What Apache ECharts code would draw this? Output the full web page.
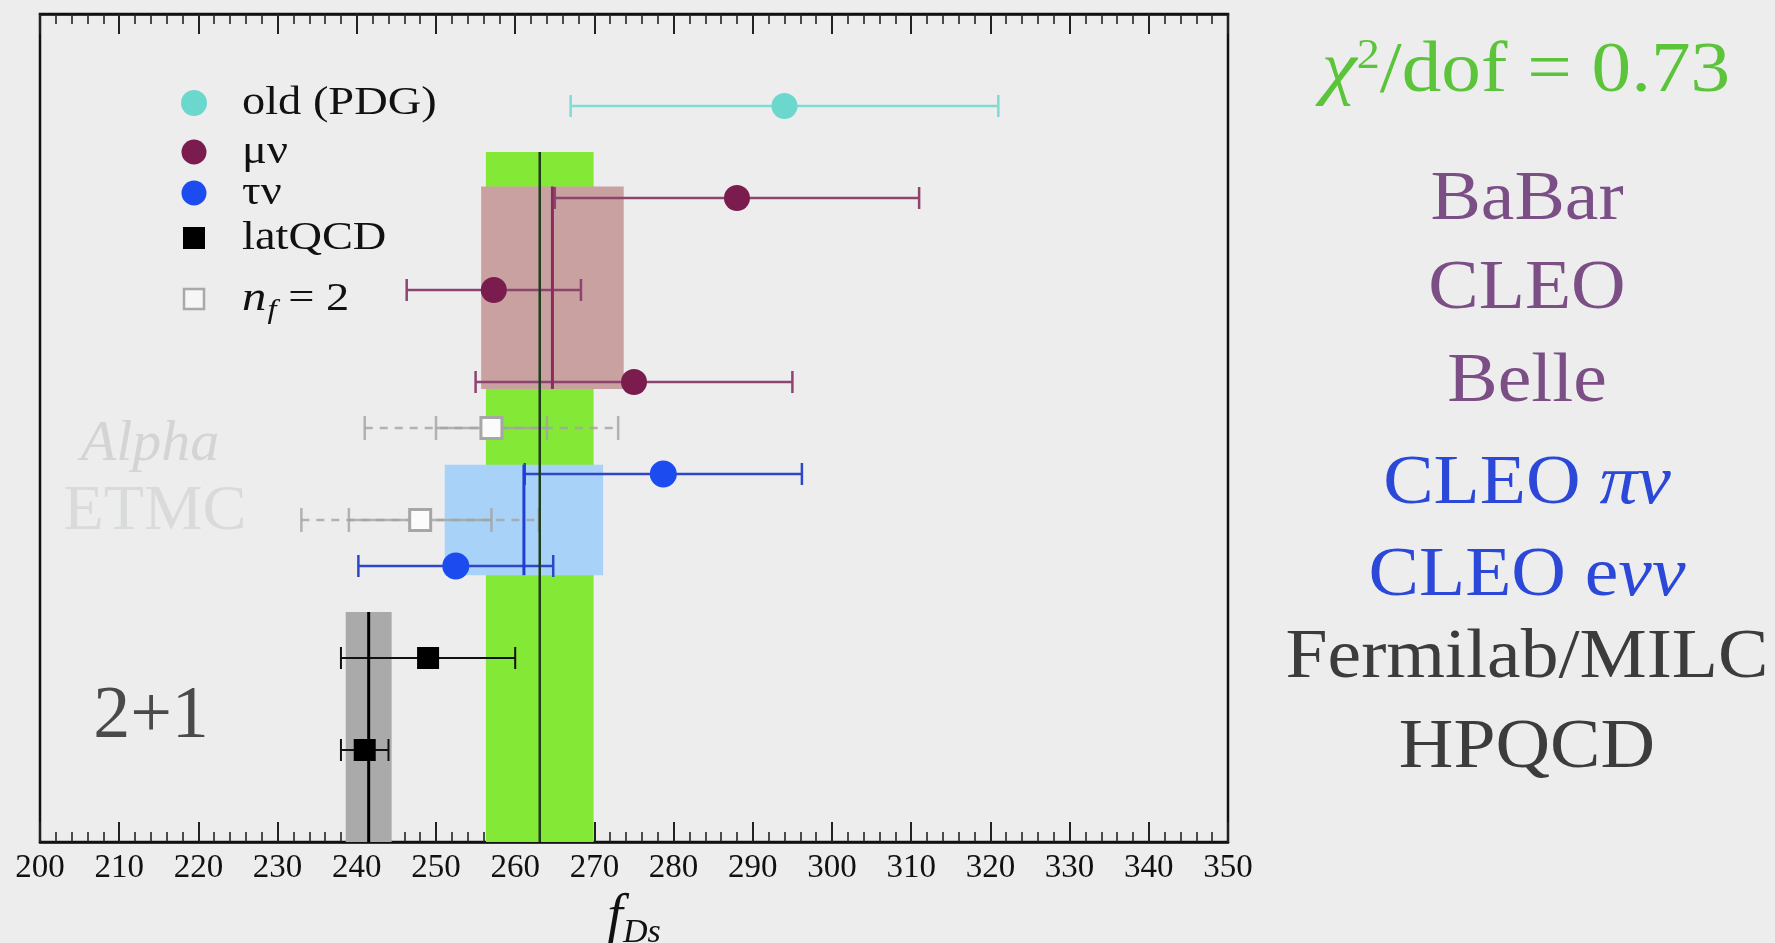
<!DOCTYPE html>
<html>
<head>
<meta charset="utf-8">
<title>f_Ds comparison</title>
<script src="https://cdn.jsdelivr.net/npm/echarts@6/dist/echarts.min.js"></script>
<style>
  html, body { margin: 0; padding: 0; background: #ededed; }
  #chart { width: 1775px; height: 943px; }
</style>
</head>
<body>
<div id="chart"></div>
<script>
// ---- data: f_Ds in MeV, symmetric errors, row = vertical slot (0 = axis) ----
const pdgValues = [294];
const pdgErrors = [27];
const pdgRows = [16];

const muNuValues = [288, 257.3, 275];       // BaBar, CLEO, Belle
const muNuErrors = [23, 11, 20];
const muNuRows = [14, 12, 10];

const tauNuValues = [278.7, 252.5];         // CLEO pi nu, CLEO e nu nu
const tauNuErrors = [17.5, 12.3];
const tauNuRows = [8, 6];

const latValues = [249, 241];               // Fermilab/MILC, HPQCD
const latErrors = [11, 3];
const latRows = [4, 2];

const nf2Values = [257, 248];               // Alpha, ETMC
const nf2StatErrors = [7, 9];
const nf2TotalErrors = [16, 15];
const nf2Rows = [9, 7];

// averages: overall first so it sits underneath the others
const avgNames = ['all', 'μν', 'τν', 'latQCD'];
const avgCenters = [263.1, 264.7, 261.1, 241.5];
const avgHalfWidths = [6.8, 9, 10, 2.9];
const avgRowFrom = [0, 9.85, 5.8, 0];
const avgRowTo = [15, 14.25, 8.2, 5];

const xTicks = { min: 200, max: 350, step: 10 };

const legendLabels = ['old (PDG)', 'μν', 'τν', 'latQCD', '{i|n}{sub|f}{t| = 2}'];
const sideLabels = ['BaBar', 'CLEO', 'Belle', 'CLEO {m|πν}', 'CLEO e{m|νν}', 'Fermilab/MILC', 'HPQCD'];
const chiLabel = '{c|χ}{sup|2}{t|/dof = 0.73}';

// ---- styling ----
const SERIF = '"Liberation Serif", "Times New Roman", serif';
const C = {
  pdg: '#6bd7cd', pdgBar: '#80dbd4',
  mu: '#7a1d4e', muBar: '#8d4570',
  tau: '#1c4cf0', tauBar: '#2f46c6',
  lat: '#000000',
  nf2: '#a3a3a3',
  bands: ['#84e836', '#c9a1a1', '#a8d2f7', '#aaaaaa'],
  lines: ['#1d3d1d', '#8c2c5e', '#1f3fd2', '#000000'],
  muText: '#7b4f86', tauText: '#2b48d8', latText: '#3c3c3c', chi: '#5cc43a'
};

const chart = echarts.init(document.getElementById('chart'));

function barData(values, errors, rows) {
  return values.map((v, i) => [v - errors[i], v + errors[i], rows[i]]);
}

function errorBarRenderer(color, width) {
  return function (params, api) {
    const y = api.value(2);
    const a = api.coord([api.value(0), y]);
    const b = api.coord([api.value(1), y]);
    const cap = 11;
    const st = { stroke: color, lineWidth: width };
    return {
      type: 'group',
      children: [
        { type: 'line', shape: { x1: a[0], y1: a[1], x2: b[0], y2: b[1] }, style: st },
        { type: 'line', shape: { x1: a[0], y1: a[1] - cap, x2: a[0], y2: a[1] + cap }, style: st },
        { type: 'line', shape: { x1: b[0], y1: b[1] - cap, x2: b[0], y2: b[1] + cap }, style: st }
      ]
    };
  };
}

// n_f = 2 points: dashed total error, solid statistical error, caps at both
function nf2Renderer(params, api) {
  const y = api.value(4);
  const t0 = api.coord([api.value(0), y]);
  const s0 = api.coord([api.value(1), y]);
  const s1 = api.coord([api.value(2), y]);
  const t1 = api.coord([api.value(3), y]);
  const cap = 12;
  const st = { stroke: C.nf2, lineWidth: 2.5, opacity: 0.8 };
  const dash = { stroke: C.nf2, lineWidth: 2.5, lineDash: [8, 7], opacity: 0.8 };
  const capAt = (p) => ({ type: 'line', shape: { x1: p[0], y1: p[1] - cap, x2: p[0], y2: p[1] + cap }, style: st });
  return {
    type: 'group',
    children: [
      { type: 'line', shape: { x1: t0[0], y1: t0[1], x2: t1[0], y2: t1[1] }, style: dash },
      { type: 'line', shape: { x1: s0[0], y1: s0[1], x2: s1[0], y2: s1[1] }, style: st },
      capAt(t0), capAt(s0), capAt(s1), capAt(t1)
    ]
  };
}

const bandData = avgCenters.map((c, i) => [c, avgHalfWidths[i], avgRowFrom[i], avgRowTo[i]]);

function bandRenderer(params, api) {
  const c = api.value(0), hw = api.value(1);
  const p0 = api.coord([c - hw, api.value(3)]);
  const p1 = api.coord([c + hw, api.value(2)]);
  return {
    type: 'rect',
    shape: { x: p0[0], y: p0[1], width: p1[0] - p0[0], height: p1[1] - p0[1] },
    style: { fill: C.bands[params.dataIndex] }
  };
}

function centerLineRenderer(params, api) {
  const c = api.value(0);
  const p0 = api.coord([c, api.value(3)]);
  const p1 = api.coord([c, api.value(2)]);
  const w = params.dataIndex === 0 ? 2.5 : 3;
  return {
    type: 'line',
    shape: { x1: p0[0], y1: p0[1], x2: p1[0], y2: p1[1] },
    style: { stroke: C.lines[params.dataIndex], lineWidth: w }
  };
}

// legend, drawn as graphic items beside the data
const legendY = [103, 152, 193, 238, 299];
const legendMarkers = [
  { type: 'circle', shape: { cx: 194, cy: legendY[0], r: 13 }, style: { fill: C.pdg } },
  { type: 'circle', shape: { cx: 194, cy: legendY[1], r: 12.5 }, style: { fill: C.mu } },
  { type: 'circle', shape: { cx: 194, cy: legendY[2], r: 12.5 }, style: { fill: C.tau } },
  { type: 'rect', shape: { x: 183, y: legendY[3] - 11, width: 22, height: 22 }, style: { fill: C.lat } },
  { type: 'rect', shape: { x: 184, y: legendY[4] - 10, width: 20, height: 20 }, style: { fill: '#f6f6f6', stroke: '#a9a9a9', lineWidth: 2.5 } }
];
const legendTexts = legendLabels.map((t, i) => ({
  type: 'text', x: 242, y: legendY[i], scaleX: 1.16,
  style: {
    text: t, fill: '#111', fontSize: 40, fontFamily: SERIF,
    align: 'left', verticalAlign: 'middle',
    rich: {
      i: { fontSize: 42, fontStyle: 'italic', fontFamily: SERIF, fill: '#111' },
      sub: { fontSize: 28, fontStyle: 'italic', fontFamily: SERIF, fill: '#111', padding: [24, 0, 0, 1] },
      t: { fontSize: 40, fontFamily: SERIF, fill: '#111' }
    }
  }
}));

const sideY = [201, 290, 383, 485, 577, 659, 749];
const sideColors = [C.muText, C.muText, C.muText, C.tauText, C.tauText, C.latText, C.latText];
const sideTexts = sideLabels.map((t, i) => ({
  type: 'text', x: 1527, y: sideY[i], scaleX: 1.08,
  style: {
    text: t, fill: sideColors[i], fontSize: 70, fontFamily: SERIF,
    align: 'center', verticalAlign: 'middle',
    rich: { m: { fontSize: 70, fontStyle: 'italic', fontFamily: SERIF, fill: sideColors[i] } }
  }
}));

const axisCommon = {
  type: 'value', min: xTicks.min, max: xTicks.max, interval: xTicks.step,
  axisLine: { lineStyle: { color: '#111', width: 2.5 } },
  axisTick: { inside: true, length: 20, lineStyle: { color: '#222', width: 2 } },
  minorTick: { show: true, splitNumber: 5, length: 10, lineStyle: { color: '#222', width: 1.6 } },
  splitLine: { show: false },
  minorSplitLine: { show: false }
};

const option = {
  backgroundColor: '#ededed',
  animation: false,
  grid: {
    left: 40, right: 547, top: 14, bottom: 101,
    containLabel: false, outerBoundsMode: 'none',
    show: true, borderColor: '#111', borderWidth: 2.5, backgroundColor: 'transparent'
  },
  xAxis: [
    Object.assign({}, axisCommon, {
      position: 'bottom',
      axisLabel: { color: '#111', fontSize: 33, fontFamily: SERIF, margin: 10 },
      name: '{f|f}{s|Ds}', nameLocation: 'middle', nameGap: 30,
      nameTextStyle: {
        rich: {
          f: { fontSize: 56, fontStyle: 'italic', fontFamily: SERIF, color: '#111' },
          s: { fontSize: 34, fontStyle: 'italic', fontFamily: SERIF, color: '#111', padding: [30, 0, 0, 0] }
        }
      }
    }),
    Object.assign({}, axisCommon, {
      position: 'top',
      axisLabel: { show: false }
    })
  ],
  yAxis: {
    type: 'value', min: 0, max: 18,
    axisLine: { show: false }, axisTick: { show: false }, axisLabel: { show: false }, splitLine: { show: false }
  },
  series: [
    { type: 'custom', name: 'bands', data: bandData, renderItem: bandRenderer, encode: { x: 0, y: [2, 3] }, z: 1, silent: true },
    { type: 'custom', name: 'n_f = 2 errors', data: nf2Values.map((v, i) => [v - nf2TotalErrors[i], v - nf2StatErrors[i], v + nf2StatErrors[i], v + nf2TotalErrors[i], nf2Rows[i]]), renderItem: nf2Renderer, encode: { x: [0, 3], y: 4 }, z: 3 },
    { type: 'custom', name: 'old (PDG) errors', data: barData(pdgValues, pdgErrors, pdgRows), renderItem: errorBarRenderer(C.pdgBar, 2.5), encode: { x: [0, 1], y: 2 }, z: 3 },
    { type: 'custom', name: 'μν errors', data: barData(muNuValues, muNuErrors, muNuRows), renderItem: errorBarRenderer(C.muBar, 2.5), encode: { x: [0, 1], y: 2 }, z: 3 },
    { type: 'custom', name: 'τν errors', data: barData(tauNuValues, tauNuErrors, tauNuRows), renderItem: errorBarRenderer(C.tauBar, 2.5), encode: { x: [0, 1], y: 2 }, z: 3 },
    { type: 'custom', name: 'latQCD errors', data: barData(latValues, latErrors, latRows), renderItem: errorBarRenderer('#111', 2), encode: { x: [0, 1], y: 2 }, z: 3 },
    { type: 'custom', name: 'averages', data: bandData, renderItem: centerLineRenderer, encode: { x: 0, y: [2, 3] }, z: 4, silent: true },
    { type: 'scatter', name: 'old (PDG)', data: pdgValues.map((v, i) => [v, pdgRows[i]]), symbol: 'circle', symbolSize: 26, itemStyle: { color: C.pdg, opacity: 1 }, z: 6 },
    { type: 'scatter', name: 'μν', data: muNuValues.map((v, i) => [v, muNuRows[i]]), symbol: 'circle', symbolSize: 26, itemStyle: { color: C.mu, opacity: 1 }, z: 6 },
    { type: 'scatter', name: 'τν', data: tauNuValues.map((v, i) => [v, tauNuRows[i]]), symbol: 'circle', symbolSize: 27, itemStyle: { color: C.tau, opacity: 1 }, z: 6 },
    { type: 'scatter', name: 'latQCD', data: latValues.map((v, i) => [v, latRows[i]]), symbol: 'rect', symbolSize: 22, itemStyle: { color: C.lat, opacity: 1 }, z: 6 },
    { type: 'scatter', name: 'n_f = 2', data: nf2Values.map((v, i) => [v, nf2Rows[i]]), symbol: 'rect', symbolSize: 21, itemStyle: { color: '#fbfbfb', borderColor: '#a6a6a6', borderWidth: 3, opacity: 1 }, z: 6 }
  ],
  graphic: [
    ...legendMarkers,
    ...legendTexts,
    { type: 'text', x: 150, y: 445, style: { text: 'Alpha', fill: '#d4d4d4', fontSize: 58, fontStyle: 'italic', fontFamily: SERIF, align: 'center', verticalAlign: 'middle' } },
    { type: 'text', x: 155, y: 512, scaleX: 1.03, style: { text: 'ETMC', fill: '#d9dbdb', fontSize: 64, fontFamily: SERIF, align: 'center', verticalAlign: 'middle' } },
    { type: 'text', x: 151, y: 718, style: { text: '2+1', fill: '#4a4a4a', fontSize: 74, fontFamily: SERIF, align: 'center', verticalAlign: 'middle' } },
    { type: 'text', x: 1526, y: 72, scaleX: 1.1, style: { text: chiLabel, fill: C.chi, fontSize: 72, fontFamily: SERIF, align: 'center', verticalAlign: 'middle',
      rich: {
        c: { fontSize: 72, fontStyle: 'italic', fontFamily: SERIF, fill: C.chi },
        t: { fontSize: 72, fontFamily: SERIF, fill: C.chi },
        sup: { fontSize: 42, fontFamily: SERIF, fill: C.chi, padding: [0, 0, 30, 0] }
      } } },
    ...sideTexts
  ]
};

chart.setOption(option);
</script>
</body>
</html>
